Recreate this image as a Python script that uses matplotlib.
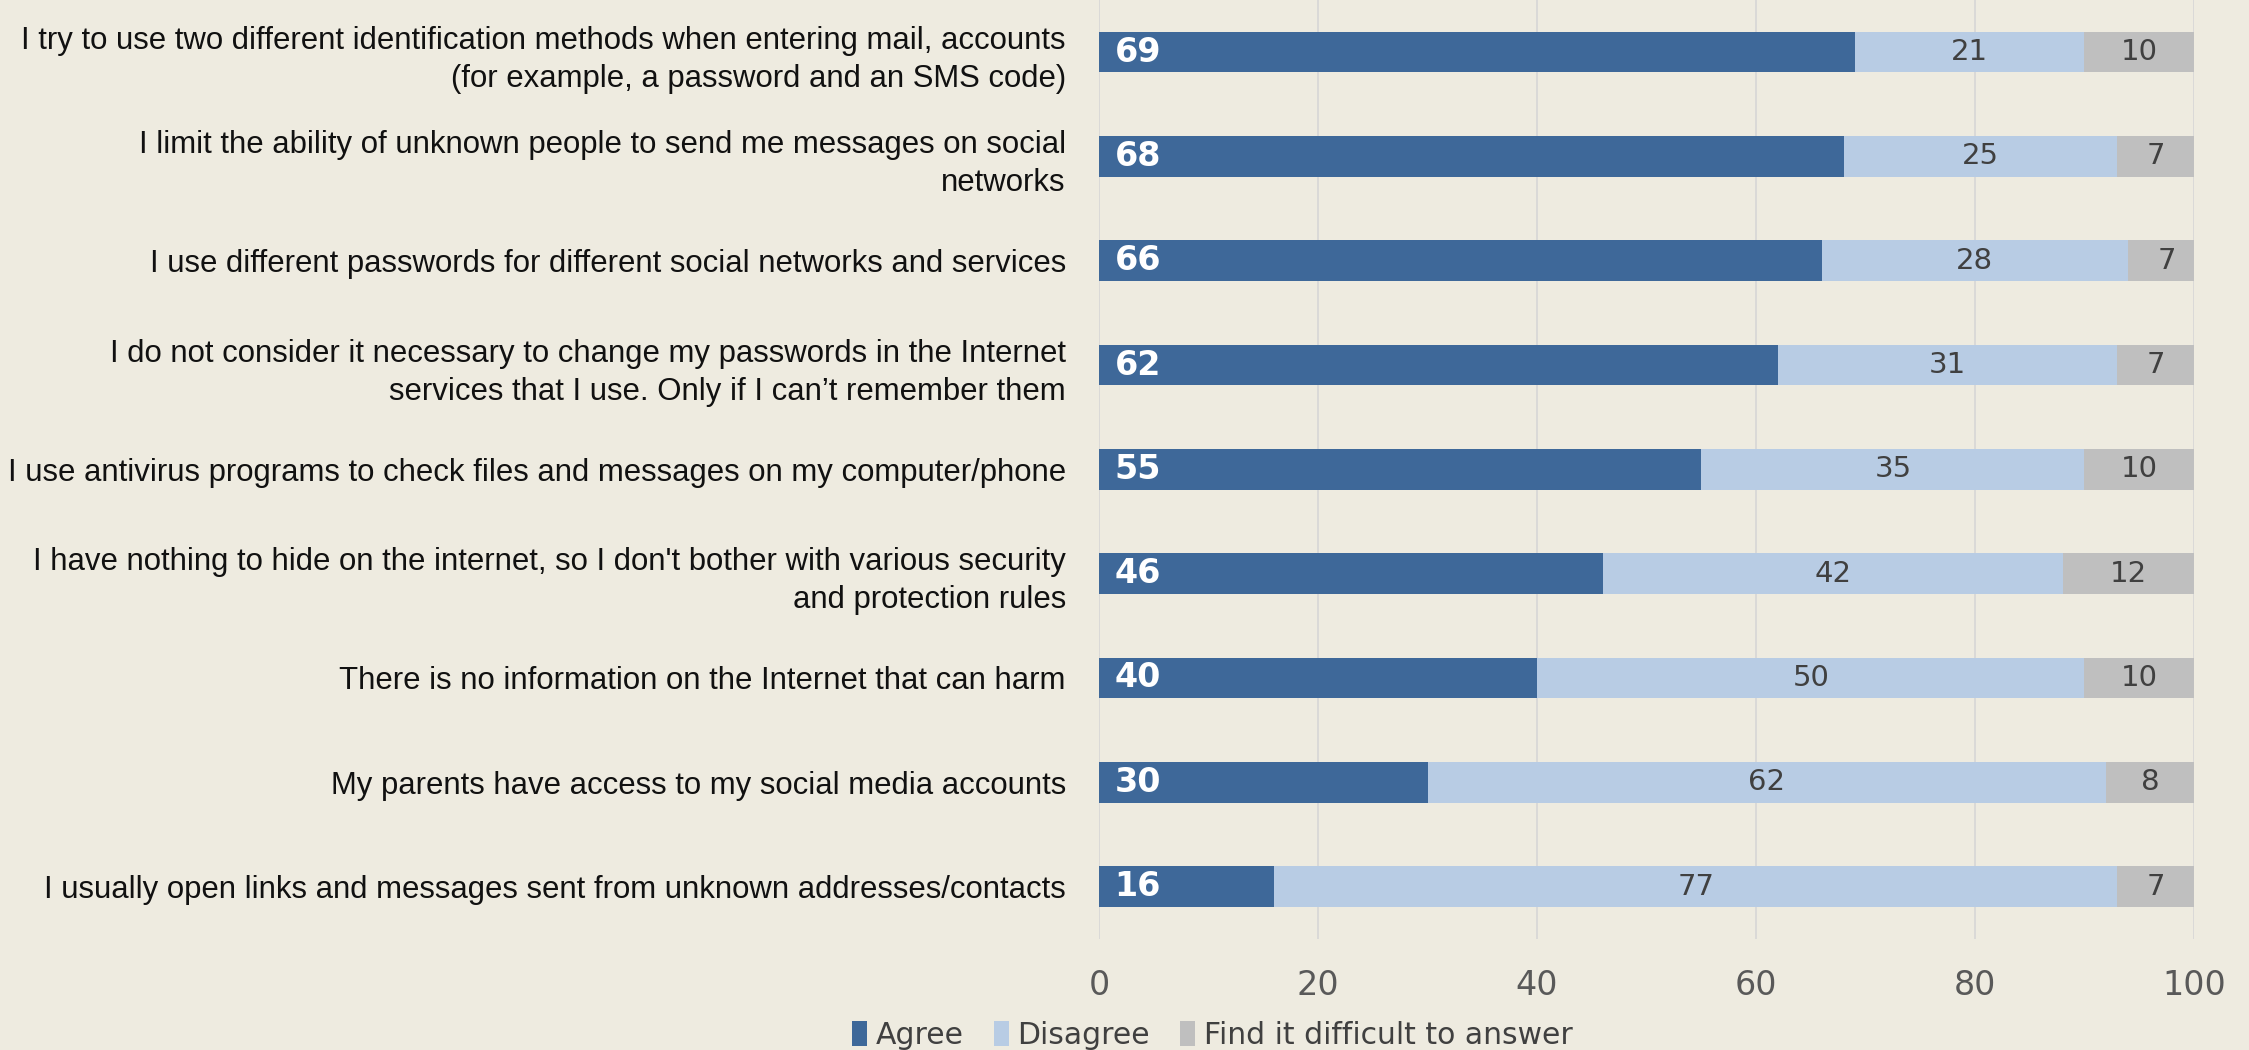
import numpy as np
import matplotlib
matplotlib.use("Agg")
import matplotlib.pyplot as plt

# survey statements, top to bottom
statements = [
    "I try to use two different identification methods when entering mail, accounts\n(for example, a password and an SMS code)",
    "I limit the ability of unknown people to send me messages on social\nnetworks",
    "I use different passwords for different social networks and services",
    "I do not consider it necessary to change my passwords in the Internet\nservices that I use. Only if I can\u2019t remember them",
    "I use antivirus programs to check files and messages on my computer/phone",
    "I have nothing to hide on the internet, so I don't bother with various security\nand protection rules",
    "There is no information on the Internet that can harm",
    "My parents have access to my social media accounts",
    "I usually open links and messages sent from unknown addresses/contacts",
]
agree = [69, 68, 66, 62, 55, 46, 40, 30, 16]
disagree = [21, 25, 28, 31, 35, 42, 50, 62, 77]
difficult = [10, 7, 7, 7, 10, 12, 10, 8, 7]
series_names = ["Agree", "Disagree", "Find it difficult to answer"]
x_ticks = [0, 20, 40, 60, 80, 100]

bg = "#EEEBE0"
c_agree = "#3E6899"
c_dis = "#B8CCE4"
c_diff = "#BFBFBF"

fig = plt.figure(figsize=(22.49, 10.5), dpi=100, facecolor=bg)
ax = fig.add_axes([0.4887, 0.106, 0.4868, 0.894])
ax.set_facecolor(bg)

y = np.arange(len(statements))
a = np.array(agree)
d = np.array(disagree)
f = np.array(difficult)
h = 0.39

ax.barh(y, a, height=h, color=c_agree, label=series_names[0], zorder=2)
ax.barh(y, d, left=a, height=h, color=c_dis, label=series_names[1], zorder=2)
ax.barh(y, f, left=a + d, height=h, color=c_diff, label=series_names[2], zorder=2)

# value labels: agree at the bar base, the others centred in their segment
for i in range(len(y)):
    ax.text(1.4, y[i], str(a[i]), ha="left", va="center", color="white",
            fontsize=24, fontweight="bold", family="DejaVu Sans", zorder=3)
    ax.text(a[i] + d[i] / 2, y[i], str(d[i]), ha="center", va="center",
            color="#404040", fontsize=21, family="DejaVu Sans", zorder=3)
    ax.text(a[i] + d[i] + f[i] / 2, y[i], str(f[i]), ha="center", va="center",
            color="#404040", fontsize=21, family="DejaVu Sans", zorder=3)

ax.set_xlim(0, 100)
ax.set_ylim(len(y) - 0.5, -0.5)
ax.set_xticks(x_ticks)
ax.set_yticks(y)
ax.set_yticklabels(statements, fontsize=22.4, family="Liberation Sans",
                   color="#111111", linespacing=1.36)
ax.tick_params(axis="y", length=0, pad=24)
ax.tick_params(axis="x", length=0, pad=22, labelsize=24, labelcolor="#595959")
for lbl in ax.get_xticklabels():
    lbl.set_family("DejaVu Sans")

ax.grid(axis="x", color="#D6D6D6", linewidth=1.2, zorder=0)
ax.set_axisbelow(True)
for s in ax.spines.values():
    s.set_visible(False)

fig.legend(loc="center", bbox_to_anchor=(0.539, 0.014), ncol=3, frameon=False,
           handlelength=0.5, handleheight=0.9, handletextpad=0.3,
           columnspacing=1.0, labelcolor="#404040",
           prop={"family": "DejaVu Sans", "size": 21.5})

fig.savefig("out.png", dpi=100, facecolor=bg)
